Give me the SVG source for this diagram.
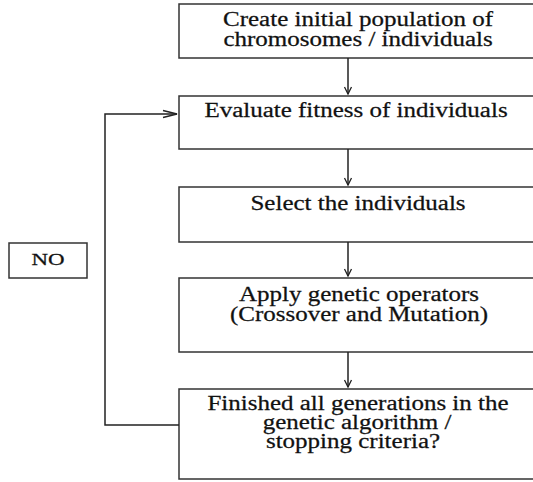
<svg xmlns="http://www.w3.org/2000/svg" width="533" height="482" viewBox="0 0 533 482">
<defs>
<style>
.box{fill:#fff;stroke:#333;stroke-width:1.5}
.ln{fill:none;stroke:#222;stroke-width:1.5}
.ah{fill:none;stroke:#222;stroke-width:1.3}
text{font-family:"Liberation Serif","Times New Roman",serif;font-size:20px;fill:#111;text-anchor:middle;stroke:#111;stroke-width:0.25}
</style>
</defs>
<rect width="533" height="482" fill="#fff"/>
<g id="n1"><rect class="box" x="179" y="4" width="362" height="54"/>
<text transform="matrix(1.25 0 0 1 358 26)">Create initial population of</text>
<text transform="matrix(1.25 0 0 1 358 46)">chromosomes / individuals</text></g>
<g id="n2"><rect class="box" x="179" y="96" width="362" height="53"/>
<text transform="matrix(1.25 0 0 1 356 117)">Evaluate fitness of individuals</text></g>
<g id="n3"><rect class="box" x="179" y="187" width="362" height="55"/>
<text transform="matrix(1.25 0 0 1 358 210)">Select the individuals</text></g>
<g id="n4"><rect class="box" x="179" y="278" width="362" height="74"/>
<text transform="matrix(1.25 0 0 1 359 301)">Apply genetic operators</text>
<text transform="matrix(1.25 0 0 1 359 321)">(Crossover and Mutation)</text></g>
<g id="n5"><rect class="box" x="179" y="389" width="362" height="90"/>
<text transform="matrix(1.25 0 0 1 358 410)">Finished all generations in the</text>
<text transform="matrix(1.25 0 0 1 357 429)">genetic algorithm /</text>
<text transform="matrix(1.25 0 0 1 353 448)">stopping criteria?</text></g>
<g id="no"><rect class="box" x="9" y="243" width="78" height="35"/>
<text transform="matrix(1.35 0 0 1 48 265)" style="font-size:17px">NO</text></g>
<g id="connectors">
<line class="ln" x1="348" y1="58" x2="348" y2="94"/>
<polyline class="ah" points="344.5,87 348,94 351.5,87"/>
<line class="ln" x1="348" y1="149" x2="348" y2="185"/>
<polyline class="ah" points="344.5,178 348,185 351.5,178"/>
<line class="ln" x1="348" y1="242" x2="348" y2="276"/>
<polyline class="ah" points="344.5,269 348,276 351.5,269"/>
<line class="ln" x1="348" y1="352" x2="348" y2="387"/>
<polyline class="ah" points="344.5,380 348,387 351.5,380"/>
<polyline class="ln" points="179,425 105,425 105,114 177,114"/>
<polyline class="ah" points="163,110.5 177,114 163,117.5"/>
</g>
</svg>
